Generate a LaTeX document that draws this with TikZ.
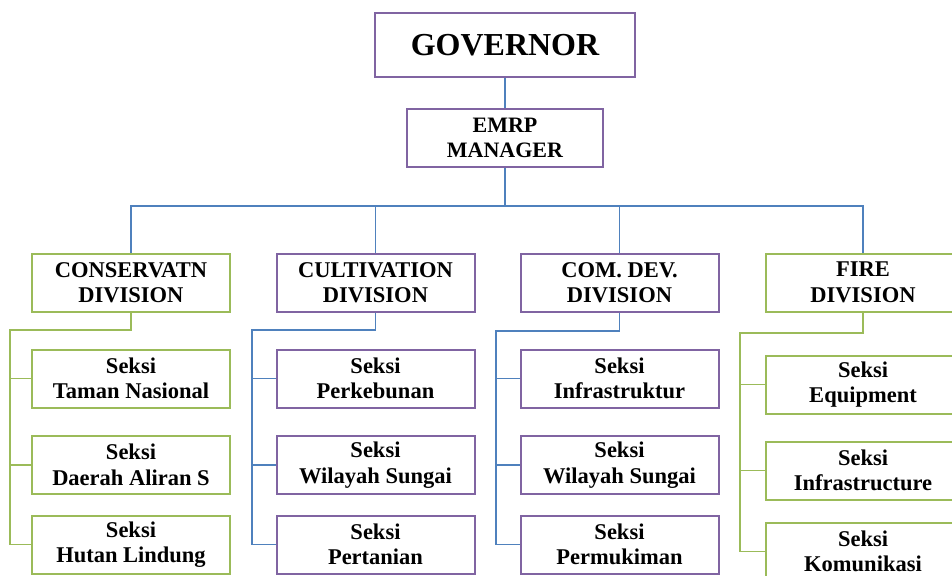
\documentclass[tikz,border=0pt]{standalone}
\usepackage{fontspec}
\setmainfont{Liberation Serif}
\definecolor{orgpurple}{HTML}{8064A2}
\definecolor{orggreen}{HTML}{9BBB59}
\definecolor{orgblue}{HTML}{4F81BD}
\begin{document}
\begin{tikzpicture}[x=1pt,y=-1pt,
  unit/.style={draw, line width=2pt, fill=white, inner sep=0pt, align=center,
    minimum width=198pt, minimum height=58pt,
    font=\fontsize{22.5}{25.5}\selectfont\bfseries},
  purpleunit/.style={unit, draw=orgpurple},
  greenunit/.style={unit, draw=orggreen},
  link/.style={line width=1.6pt},
  bluelink/.style={link, draw=orgblue},
  greenlink/.style={link, draw=orggreen}]
\useasboundingbox (0,0) rectangle (952,575);
\clip (0,0) rectangle (952,575);

% top of the chart
\node[purpleunit, minimum width=260pt, minimum height=64pt,
      font=\fontsize{32}{36}\selectfont\bfseries] (gov) at (505,45) {GOVERNOR};
\node[purpleunit, minimum width=196pt, font=\fontsize{22}{25}\selectfont\bfseries]
      (emrp) at (505,138) {EMRP\\MANAGER};

% divisions
\node[greenunit]  (cons) at (131,282.5)   {CONSERVATN\\DIVISION};
\node[purpleunit] (cult) at (375.5,282.5) {CULTIVATION\\DIVISION};
\node[purpleunit] (comd) at (619.5,282.5) {COM. DEV.\\DIVISION};
\node[greenunit, minimum width=194pt] (fire) at (863,282.5) {FIRE\\DIVISION};

% sections
\node[greenunit]  (cons1) at (131,378.5) {Seksi\\Taman Nasional};
\node[greenunit]  (cons2) at (131,465)   {Seksi\\Daerah Aliran S};
\node[greenunit]  (cons3) at (131,544.5) {Seksi\\Hutan Lindung};

\node[purpleunit] (cult1) at (375.5,378.5) {Seksi\\Perkebunan};
\node[purpleunit] (cult2) at (375.5,465)   {Seksi\\Wilayah Sungai};
\node[purpleunit] (cult3) at (375.5,544.5) {Seksi\\Pertanian};

\node[purpleunit] (comd1) at (619.5,378.5) {Seksi\\Infrastruktur};
\node[purpleunit] (comd2) at (619.5,465)   {Seksi\\Wilayah Sungai};
\node[purpleunit] (comd3) at (619.5,544.5) {Seksi\\Permukiman};

\node[greenunit, minimum width=194pt] (fire1) at (863,384.5) {Seksi\\Equipment};
\node[greenunit, minimum width=194pt] (fire2) at (863,470.5) {Seksi\\Infrastructure};
\node[greenunit, minimum width=194pt] (fire3) at (863,551.5) {Seksi\\Komunikasi};

% upper connectors
\coordinate (bus) at (505,206);
\draw[bluelink] (gov.south) -- (emrp.north);
\draw[bluelink] (emrp.south) -- (bus);
\draw[bluelink] (cons.north) |- (bus) -| (fire.north);
\draw[bluelink] (cult.north) -- (cult.north |- bus);
\draw[bluelink] (comd.north) -- (comd.north |- bus);

% section connectors
\coordinate (consel) at (10,330);
\draw[greenlink] (cons.south) |- (consel) |- (cons3.west);
\draw[greenlink] (consel |- cons1.west) -- (cons1.west);
\draw[greenlink] (consel |- cons2.west) -- (cons2.west);

\coordinate (cultel) at (252,330);
\draw[bluelink] (cult.south) |- (cultel) |- (cult3.west);
\draw[bluelink] (cultel |- cult1.west) -- (cult1.west);
\draw[bluelink] (cultel |- cult2.west) -- (cult2.west);

\coordinate (comdel) at (496,331);
\draw[bluelink] (comd.south) |- (comdel) |- (comd3.west);
\draw[bluelink] (comdel |- comd1.west) -- (comd1.west);
\draw[bluelink] (comdel |- comd2.west) -- (comd2.west);

\coordinate (fireel) at (740,333);
\draw[greenlink] (fire.south) |- (fireel) |- (fire3.west);
\draw[greenlink] (fireel |- fire1.west) -- (fire1.west);
\draw[greenlink] (fireel |- fire2.west) -- (fire2.west);
\end{tikzpicture}
\end{document}
